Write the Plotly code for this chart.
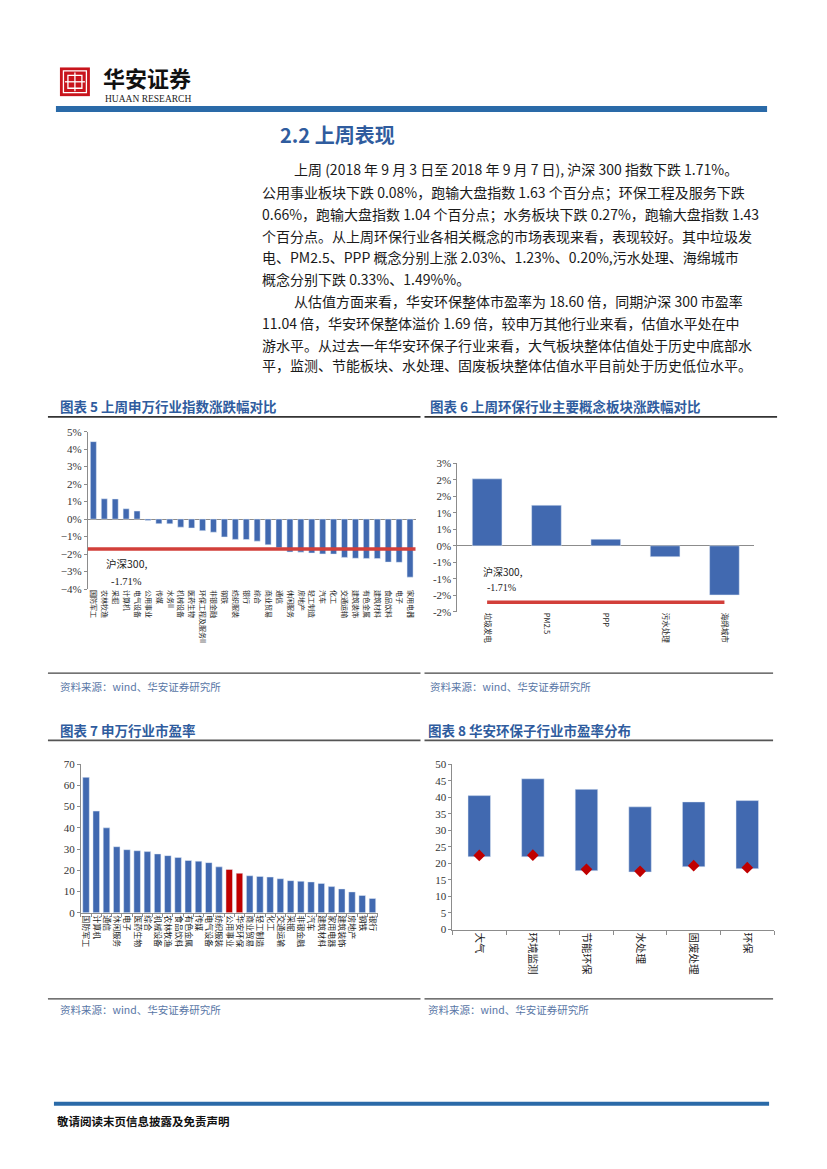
import plotly.graph_objects as go

W, H = 827, 1169

# ---------------- data ----------------
c5_cats = ["国防军工", "农林牧渔", "采掘", "计算机", "电气设备", "公用事业", "传媒", "水务II",
           "机械设备", "医药生物", "环保工程及服务II", "非银金融", "钢铁", "纺织服装", "银行", "综合",
           "商业贸易", "通信", "休闲服务", "房地产", "轻工制造", "汽车", "化工", "交通运输",
           "建筑装饰", "有色金属", "建筑材料", "食品饮料", "电子", "家用电器"]
c5_vals = [4.43, 1.16, 1.15, 0.59, 0.46, -0.08, -0.26, -0.27,
           -0.46, -0.51, -0.66, -0.75, -1.02, -1.16, -1.17, -1.26,
           -1.47, -1.64, -1.88, -1.89, -1.94, -1.99, -2.00, -2.19,
           -2.24, -2.25, -2.26, -2.46, -2.47, -3.32]
hs300 = -1.71

c6_cats = ["垃圾发电", "PM2.5", "PPP", "污水处理", "海绵城市"]
c6_vals = [2.03, 1.23, 0.20, -0.33, -1.49]
c6_tickvals = [2.5, 2.0, 1.5, 1.0, 0.5, 0, -0.5, -1.0, -1.5, -2.0]
c6_ticktext = ["3%", "2%", "2%", "1%", "1%", "0%", "-1%", "-1%", "-2%", "-2%"]

c7_cats = ["国防军工", "计算机", "通信", "休闲服务", "电子", "医药生物", "综合", "机械设备",
           "农林牧渔", "食品饮料", "有色金属", "传媒", "电气设备", "纺织服装", "公用事业", "华安环保",
           "商业贸易", "轻工制造", "化工", "交通运输", "采掘", "非银金融", "汽车", "建筑材料",
           "家用电器", "建筑装饰", "房地产", "钢铁", "银行"]
c7_vals = [63.8, 47.9, 40.0, 31.1, 29.7, 29.2, 28.8, 27.7,
           26.9, 26.0, 24.6, 24.3, 23.6, 21.6, 20.4, 18.6,
           17.4, 17.1, 16.8, 16.0, 15.1, 14.8, 14.5, 13.8,
           12.3, 11.2, 9.8, 8.1, 6.7]
c7_highlight = ["公用事业", "华安环保"]

c8_cats = ["大气", "环境监测", "节能环保", "水处理", "固废处理", "环保"]
c8_low = [22.0, 22.0, 17.8, 17.4, 19.0, 18.4]
c8_high = [40.5, 45.6, 42.4, 37.1, 38.6, 39.0]
c8_now = [22.4, 22.5, 18.2, 17.6, 19.3, 18.7]

# ---------------- styles ----------------
BLUE = "#4169B0"
DRED = "#C00000"
LRED = "#D23F3A"
AX = "#8C8C8C"
CJK = "Noto Sans CJK SC"
SERIF = "Liberation Serif"
TITLE_BLUE = "#2F5C9E"
SRC = "#5876A6"


def X(px):
    return px / W


def Y(py):
    return 1 - py / H


fig = go.Figure()

# chart 5
fig.add_trace(go.Bar(x=c5_cats, y=c5_vals, marker_color=BLUE, width=0.55,
                     xaxis="x", yaxis="y", showlegend=False))
# chart 6
fig.add_trace(go.Bar(x=c6_cats, y=c6_vals, marker_color=BLUE, width=0.5,
                     xaxis="x2", yaxis="y2", showlegend=False))
fig.add_trace(go.Scatter(x=c6_cats, y=[hs300] * len(c6_cats), mode="lines",
                         line=dict(color=LRED, width=3.5), xaxis="x2", yaxis="y2",
                         showlegend=False))
# chart 7
c7_colors = [DRED if c in c7_highlight else BLUE for c in c7_cats]
fig.add_trace(go.Bar(x=c7_cats, y=c7_vals, marker_color=c7_colors, width=0.64,
                     xaxis="x3", yaxis="y3", showlegend=False))
# chart 8
fig.add_trace(go.Bar(x=c8_cats, y=[h - l for h, l in zip(c8_high, c8_low)], base=c8_low,
                     marker_color=BLUE, width=0.42, xaxis="x4", yaxis="y4", showlegend=False))
fig.add_trace(go.Scatter(x=c8_cats, y=c8_now, mode="markers",
                         marker=dict(symbol="diamond", size=9, color=DRED),
                         xaxis="x4", yaxis="y4", showlegend=False))

ytick_font = dict(family=SERIF, size=11, color="#333")


def yax(domain, anchor, rng, **kw):
    d = dict(domain=domain, anchor=anchor, range=rng, showline=True, linecolor=AX, linewidth=1,
             ticks="outside", ticklen=3, tickcolor=AX, showgrid=False,
             zeroline=False, tickfont=ytick_font, fixedrange=True)
    d.update(kw)
    return d


def xax(domain, anchor, size, **kw):
    d = dict(domain=domain, anchor=anchor, type="category", tickangle=90,
             tickfont=dict(family=CJK, size=size, color="#222"), showgrid=False,
             fixedrange=True)
    d.update(kw)
    return d


fig.update_layout(
    width=W, height=H, margin=dict(l=0, r=0, t=0, b=0),
    paper_bgcolor="white", plot_bgcolor="rgba(0,0,0,0)",
    font=dict(family=CJK),
    xaxis=xax([X(80), X(408)], "y", 7, showline=False, ticks=""),
    yaxis=yax([Y(581), Y(422)], "x", [-4, 5], dtick=1, ticksuffix="%",
              zeroline=True, zerolinecolor=AX, zerolinewidth=1),
    xaxis2=xax([X(450), X(747)], "y2", 7.5, showline=False, ticks=""),
    yaxis2=yax([Y(604), Y(454)], "x2", [-2.0, 2.5], tickvals=c6_tickvals, ticktext=c6_ticktext,
               zeroline=True, zerolinecolor=AX, zerolinewidth=1),
    xaxis3=xax([X(73), X(370)], "y3", 8, showline=True, linecolor=AX, ticks="outside",
               tickson="boundaries", ticklen=3, tickcolor=AX),
    yaxis3=yax([Y(908), Y(758)], "x3", [0, 70], dtick=10),
    xaxis4=xax([X(445), X(767)], "y4", 10.5, showline=True, linecolor=AX, ticks="outside",
               tickson="boundaries", ticklen=4, tickcolor=AX),
    yaxis4=yax([Y(925), Y(758)], "x4", [0, 50], dtick=5),
)

shapes = []
# chart 5 hs300 reference line across the whole plot
shapes.append(dict(type="line", xref="x domain", yref="y", x0=0, x1=1, y0=hs300, y1=hs300,
                   line=dict(color=LRED, width=3.5), layer="above"))


def hline(x0, x1, y, color, width):
    shapes.append(dict(type="line", xref="paper", yref="paper", x0=X(x0), x1=X(x1),
                       y0=Y(y), y1=Y(y), line=dict(color=color, width=width)))


def rect(x0, y0, x1, y1, fill, line=None, lw=0):
    shapes.append(dict(type="rect", xref="paper", yref="paper", x0=X(x0), x1=X(x1),
                       y0=Y(y1), y1=Y(y0), fillcolor=fill,
                       line=dict(color=line or fill, width=lw)))


# header
rect(48, 93, 760, 99, "#2A6AA8")
# logo
rect(52, 54, 82, 83, "#C8141C")
shapes.append(dict(type="rect", xref="paper", yref="paper", x0=X(55.5), x1=X(78.5),
                   y0=Y(79.5), y1=Y(57.5), line=dict(color="white", width=1.3)))
shapes.append(dict(type="rect", xref="paper", yref="paper", x0=X(60), x1=X(74),
                   y0=Y(75), y1=Y(62), line=dict(color="white", width=1.3)))
shapes.append(dict(type="line", xref="paper", yref="paper", x0=X(67), x1=X(67),
                   y0=Y(78), y1=Y(59), line=dict(color="white", width=1.3)))
shapes.append(dict(type="line", xref="paper", yref="paper", x0=X(57), x1=X(77),
                   y0=Y(68.5), y1=Y(68.5), line=dict(color="white", width=1.3)))

# chart title underlines
hline(40, 413, 407, "#333", 1.8)
hline(417, 770, 407, "#333", 1.8)
hline(40, 413, 734, "#555", 1.8)
hline(417, 766, 734, "#555", 1.8)
# source lines
hline(40, 413, 666, "#444", 1.2)
hline(417, 766, 666, "#444", 1.2)
hline(40, 413, 995, "#444", 1.2)
hline(417, 766, 995, "#444", 1.2)
# footer
rect(46, 1099, 762, 1103, "#2A6AA8")

fig.update_layout(shapes=shapes)

ann = []


def txt(x, y, s, size, color="#222", family=CJK, bold=False, anchor="left"):
    if bold:
        s = "<b>" + s + "</b>"
    ann.append(dict(x=X(x), y=Y(y), xref="paper", yref="paper", text=s, showarrow=False,
                    xanchor=anchor, yanchor="middle",
                    font=dict(size=size, color=color, family=family)))


# header texts
txt(93, 64, "华安证券", 22, "#111", family=CJK, bold=True)
txt(95, 86, "HUAAN RESEARCH", 9.5, "#222", family=SERIF)

# section heading
txt(270, 122, "2.2 上周表现", 20, TITLE_BLUE, bold=True)

body = [
    (284, 157, "上周 (2018 年 9 月 3 日至 2018 年 9 月 7 日), 沪深 300 指数下跌 1.71%。"),
    (252, 180, "公用事业板块下跌 0.08%，跑输大盘指数 1.63 个百分点；环保工程及服务下跌"),
    (252, 202, "0.66%，跑输大盘指数 1.04 个百分点；水务板块下跌 0.27%，跑输大盘指数 1.43"),
    (252, 224, "个百分点。从上周环保行业各相关概念的市场表现来看，表现较好。其中垃圾发"),
    (252, 246, "电、PM2.5、PPP 概念分别上涨 2.03%、1.23%、0.20%,污水处理、海绵城市"),
    (252, 268, "概念分别下跌 0.33%、1.49%%。"),
    (284, 290, "从估值方面来看，华安环保整体市盈率为 18.60 倍，同期沪深 300 市盈率"),
    (252, 312, "11.04 倍，华安环保整体溢价 1.69 倍，较申万其他行业来看，估值水平处在中"),
    (252, 334, "游水平。从过去一年华安环保子行业来看，大气板块整体估值处于历史中底部水"),
    (252, 355, "平，监测、节能板块、水处理、固废板块整体估值水平目前处于历史低位水平。"),
]
for x, y, s in body:
    txt(x, y, s, 14, "#1a1a1a")

# chart titles
txt(50, 396, "图表 5 上周申万行业指数涨跌幅对比", 13.5, TITLE_BLUE, bold=True)
txt(421, 396, "图表 6 上周环保行业主要概念板块涨跌幅对比", 13.5, TITLE_BLUE, bold=True)
txt(50, 723, "图表 7 申万行业市盈率", 13.5, TITLE_BLUE, bold=True)
txt(419, 723, "图表 8 华安环保子行业市盈率分布", 13.5, TITLE_BLUE, bold=True)

# sources
src = "资料来源：wind、华安证券研究所"
txt(50, 679, src, 10.5, SRC)
txt(421, 679, src, 10.5, SRC)
txt(50, 1006, src, 10.5, SRC)
txt(419, 1006, src, 10.5, SRC)

# hs300 labels
txt(96, 555, "沪深300,", 10.5, "#222")
txt(101, 573, "-1.71%", 10.5, "#222", family=SERIF)
txt(474, 563, "沪深300,", 10, "#222")
txt(478, 579, "-1.71%", 10, "#222", family=SERIF)

# footer text
txt(47, 1118, "敬请阅读末页信息披露及免责声明", 11.5, "#111", bold=True)

fig.update_layout(annotations=ann)

fig.write_html("out.html", config={"displayModeBar": False})
